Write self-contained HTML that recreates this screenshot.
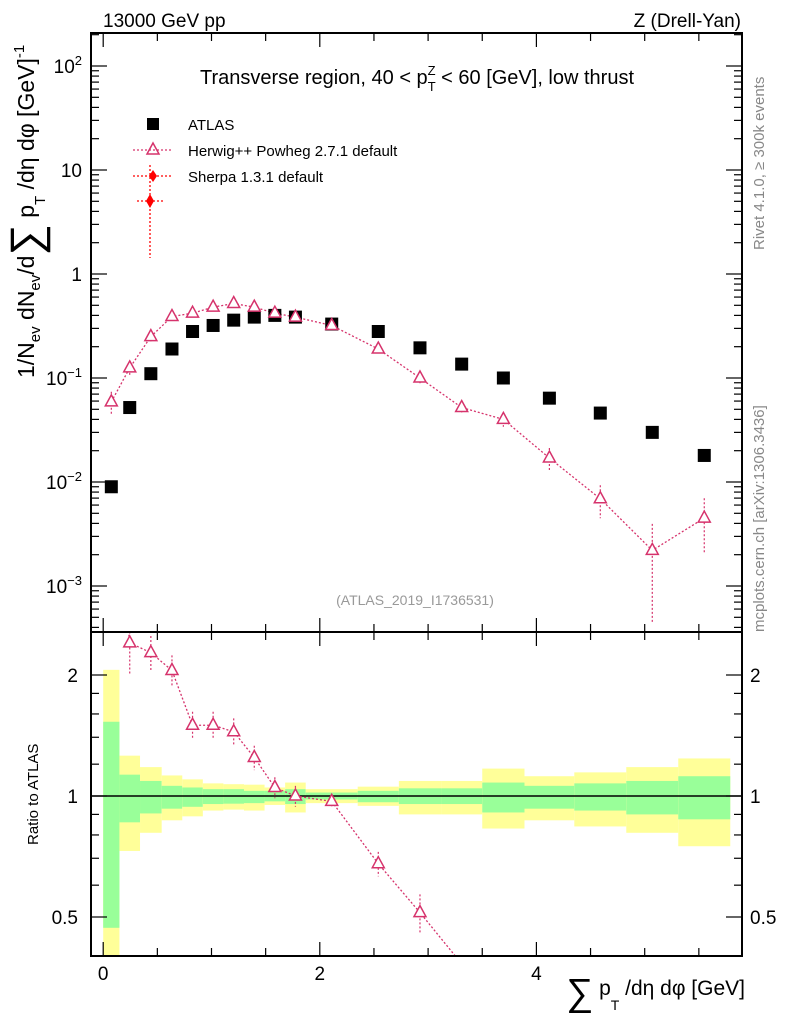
<!DOCTYPE html>
<html><head><meta charset="utf-8">
<style>
html,body{margin:0;padding:0;background:#fff;overflow:hidden;}
svg{display:block;font-family:"Liberation Sans",sans-serif;}
</style></head>
<body>
<svg id="chart" width="786" height="1024" viewBox="0 0 786 1024" xmlns="http://www.w3.org/2000/svg">
<g id="bands"></g>
<g id="marks"></g>
<g id="axes"></g>
<text x="103" y="27" font-size="19">13000 GeV pp</text>
<text x="741" y="27" font-size="19" text-anchor="end">Z (Drell-Yan)</text>
<text x="417" y="84" font-size="20" text-anchor="middle">Transverse region, 40 &lt; p<tspan font-size="13" dy="7">T</tspan><tspan font-size="13" dx="-8" dy="-16">Z</tspan><tspan dy="9"> &lt; 60 [GeV], low thrust</tspan></text>
<text x="415" y="605" font-size="14" fill="#999" text-anchor="middle">(ATLAS_2019_I1736531)</text>
<text transform="translate(764,250) rotate(-90)" font-size="15" fill="#888">Rivet 4.1.0, ≥ 300k events</text>
<text transform="translate(764,632) rotate(-90)" font-size="15" fill="#888">mcplots.cern.ch [arXiv:1306.3436]</text>
<text transform="translate(34,378) rotate(-90)" font-size="23">1/N<tspan font-size="15" dy="6">ev</tspan><tspan dy="-6"> dN</tspan><tspan font-size="15" dy="6">ev</tspan><tspan dy="-6">/d</tspan><tspan font-size="44" dy="7">∑</tspan><tspan dy="-7"> p</tspan><tspan font-size="15" dy="11">T</tspan><tspan dy="-11"> /dη dφ  [GeV]</tspan><tspan font-size="15" dy="-10">-1</tspan></text>
<text transform="translate(38,845) rotate(-90)" font-size="15">Ratio to ATLAS</text>
<text x="745" y="995" font-size="21" text-anchor="end"><tspan font-size="38" dy="10">∑</tspan><tspan dy="-10"> p</tspan><tspan font-size="14" dy="15">T</tspan><tspan dy="-15"> /dη dφ [GeV]</tspan></text>
<g>
  <rect x="147" y="118" width="12" height="12" fill="#000"/>
  <text x="188" y="130" font-size="15">ATLAS</text>
  <line x1="133" y1="150" x2="173" y2="150" stroke="#d6336c" stroke-width="1.3" stroke-dasharray="2,2"/>
  <path d="M153,143 L159,154 L147,154 Z" fill="none" stroke="#d6336c" stroke-width="1.5"/>
  <text x="188" y="156" font-size="15">Herwig++ Powheg 2.7.1 default</text>
  <line x1="133" y1="176" x2="173" y2="176" stroke="red" stroke-width="1.3" stroke-dasharray="2,2"/>
  <path d="M153,170 L157,176 L153,182 L149,176 Z" fill="red"/>
  <text x="188" y="182" font-size="15">Sherpa 1.3.1 default</text>
  <line x1="150" y1="165" x2="150" y2="258" stroke="red" stroke-width="1.3" stroke-dasharray="2,2"/>
  <line x1="137" y1="201" x2="163" y2="201" stroke="red" stroke-width="1.3" stroke-dasharray="2,2"/>
  <path d="M150,194 L154,201 L150,208 L146,201 Z" fill="red"/>
</g>
</svg>
<script>
const binEdges=[0,0.15,0.34,0.54,0.73,0.92,1.11,1.3,1.49,1.68,1.87,2.35,2.73,3.12,3.5,3.89,4.35,4.83,5.31,5.79];
const atlasValues=[0.009,0.052,0.11,0.19,0.28,0.32,0.36,0.385,0.40,0.385,0.33,0.28,0.195,0.136,0.10,0.064,0.046,0.030,0.018];
const herwigValues=[0.059,0.125,0.25,0.39,0.42,0.48,0.52,0.48,0.42,0.385,0.32,0.19,0.10,0.052,0.040,0.017,0.0069,0.0022,0.0045];
const herwigRelErr=[0.25,0.17,0.10,0.09,0.08,0.08,0.08,0.07,0.06,0.06,0.03,0.07,0.11,0.12,0.15,0.25,0.35,0.8,0.55];
const greenUp=[1.53,1.13,1.09,1.06,1.05,1.04,1.04,1.03,1.03,1.04,1.02,1.03,1.045,1.045,1.08,1.06,1.075,1.09,1.12];
const greenDn=[0.47,0.86,0.905,0.93,0.94,0.955,0.957,0.96,0.97,0.955,0.98,0.965,0.955,0.955,0.91,0.93,0.92,0.90,0.875];
const yellowUp=[2.06,1.26,1.18,1.125,1.10,1.075,1.07,1.067,1.05,1.08,1.04,1.055,1.09,1.09,1.17,1.12,1.145,1.18,1.24];
const yellowDn=[0.37,0.73,0.81,0.87,0.89,0.92,0.925,0.92,0.95,0.91,0.96,0.945,0.90,0.90,0.83,0.87,0.84,0.81,0.75];
const xTicks=[0,2,4];
const yTicksMain=[2,1,0,-1,-2,-3];
const yTickLabels=["10^2","10","1","10^-1","10^-2","10^-3"];
const ratioTicks=[2,1,0.5];

const NS="http://www.w3.org/2000/svg";
const L=91,R=742,T=33,MB=632,RB=956;
const xs=v=>103.2+v*108.3;
const ym=v=>274-104*Math.log10(v);
const yr=v=>796-121*Math.log2(v);
function mk(tag,attrs,parent){const e=document.createElementNS(NS,tag);for(const k in attrs)e.setAttribute(k,attrs[k]);parent.appendChild(e);return e;}
const bands=document.getElementById('bands'),marks=document.getElementById('marks'),axes=document.getElementById('axes');
const clipB=v=>Math.max(MB,Math.min(RB,v));
for(let i=0;i<atlasValues.length;i++){
  const x0=xs(binEdges[i]),x1=xs(binEdges[i+1]);
  const ry=mk('rect',{x:x0,y:clipB(yr(yellowUp[i])),width:x1-x0,height:clipB(yr(yellowDn[i]))-clipB(yr(yellowUp[i])),fill:'#ffff99'},bands);
  
  
  const rgb=mk('rect',{x:x0,y:clipB(yr(greenUp[i])),width:x1-x0,height:clipB(yr(greenDn[i]))-clipB(yr(greenUp[i])),fill:'#99ff99'},bands);
  
  
}
mk('line',{x1:L,y1:yr(1),x2:R,y2:yr(1),stroke:'#000','stroke-width':1.5},bands);
const col='#d6336c';
const cx=i=>xs((binEdges[i]+binEdges[i+1])/2);
let pts=herwigValues.map((v,i)=>cx(i)+','+ym(v)).join(' ');
mk('polyline',{points:pts,fill:'none',stroke:col,'stroke-width':1.3,'stroke-dasharray':'2,2'},marks);
const clip=mk('clipPath',{id:'rclip'},marks);
mk('rect',{x:L,y:MB,width:R-L,height:RB-MB},clip);
const rg=mk('g',{'clip-path':'url(#rclip)'},marks);
const ratios=herwigValues.map((v,i)=>v/atlasValues[i]);
mk('polyline',{points:ratios.map((r,i)=>cx(i)+','+yr(r)).join(' '),fill:'none',stroke:col,'stroke-width':1.3,'stroke-dasharray':'2,2'},rg);
function tri(g,x,y,name){const p=mk('path',{d:`M${x},${y-7} L${x+6},${y+4} L${x-6},${y+4} Z`,fill:'#fff',stroke:col,'stroke-width':1.5},g);}
for(let i=0;i<atlasValues.length;i++){
  const x=cx(i);
  const a=mk('rect',{x:x-6.5,y:ym(atlasValues[i])-6.5,width:13,height:13,fill:'#000'},marks);
  
  
  const h=herwigValues[i],e=herwigRelErr[i];
  mk('line',{x1:x,y1:ym(h*(1+e)),x2:x,y2:ym(Math.max(h*(1-e),1e-4)),stroke:col,'stroke-width':1.2,'stroke-dasharray':'2,2'},marks);
  tri(marks,x,ym(h),'herwig-point');
  const r=ratios[i];
  const ry=yr(r);
  if(ry>MB-4 && ry<RB-4){
    mk('line',{x1:x,y1:yr(r*(1+e)),x2:x,y2:yr(Math.max(r*(1-e),0.01)),stroke:col,'stroke-width':1.2,'stroke-dasharray':'2,2'},rg);
    tri(rg,x,ry,'herwig-ratio-point');
  }
}
const f1=mk('rect',{x:L,y:T,width:R-L,height:MB-T,fill:'none',stroke:'#000','stroke-width':2},axes);


const f2=mk('rect',{x:L,y:MB,width:R-L,height:RB-MB,fill:'none',stroke:'#000','stroke-width':2},axes);


for(let v=0;v<=5.75;v+=0.5){
  const x=xs(v),big=(Math.abs(v-Math.round(v))<1e-6&&Math.round(v)%2===0);
  const len=big?14:8;
  for(const [yb,yt] of [[MB,T],[RB,MB]]){
    mk('line',{x1:x,y1:yb,x2:x,y2:yb-len,stroke:'#000','stroke-width':1.2},axes);
    mk('line',{x1:x,y1:yt,x2:x,y2:yt+len,stroke:'#000','stroke-width':1.2},axes);
  }
}
xTicks.forEach(v=>{const t=mk('text',{x:xs(v),y:980,'font-size':19,'text-anchor':'middle'},axes);t.textContent=v;});
for(let d=-4;d<=2;d++){for(let m=1;m<10;m++){const y=ym(m*Math.pow(10,d));if(y<T||y>MB)continue;const len=m===1?16:8;
  mk('line',{x1:L,y1:y,x2:L+len,y2:y,stroke:'#000','stroke-width':1.2},axes);
  mk('line',{x1:R,y1:y,x2:R-len,y2:y,stroke:'#000','stroke-width':1.2},axes);}}
yTicksMain.forEach((p,i)=>{const s=yTickLabels[i];const t=mk('text',{x:82,y:ym(Math.pow(10,p))+7,'font-size':19,'text-anchor':'end'},axes);
  
  if(s.indexOf('^')>0){const parts=s.split('^');t.textContent=parts[0];const sp=mk('tspan',{'font-size':13,dy:-8},t);sp.textContent=parts[1].replace('-','\u2212');}else t.textContent=s;});
[0.4,0.5,0.6,0.7,0.8,0.9,1,2].forEach(v=>{const y=yr(v);const len=(v===0.5||v===1||v===2)?16:8;
  mk('line',{x1:L,y1:y,x2:L+len,y2:y,stroke:'#000','stroke-width':1.2},axes);
  mk('line',{x1:R,y1:y,x2:R-len,y2:y,stroke:'#000','stroke-width':1.2},axes);});
[1.2,1.4,1.6,1.8].forEach(v=>{const y=yr(v);mk('line',{x1:L,y1:y,x2:L+8,y2:y,stroke:'#000','stroke-width':1.2},axes);mk('line',{x1:R,y1:y,x2:R-8,y2:y,stroke:'#000','stroke-width':1.2},axes);});
ratioTicks.forEach(v=>{const y=yr(v)+7;
  const a=mk('text',{x:78,y:y,'font-size':19,'text-anchor':'end'},axes);a.textContent=v;
  const b=mk('text',{x:750,y:y,'font-size':19},axes);b.textContent=v;});
</script>
</body></html>
